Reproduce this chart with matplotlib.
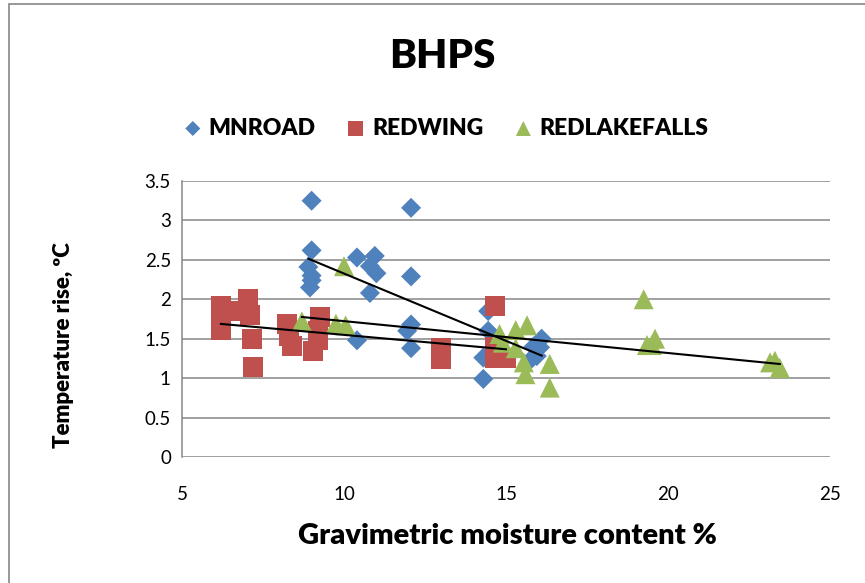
import numpy as np
import matplotlib
matplotlib.use("Agg")
import matplotlib.pyplot as plt
from matplotlib.patches import Rectangle

# values
mnroad_x = [9.0, 12.07, 9.0, 8.9, 9.0, 9.0, 8.95, 10.4, 10.95, 10.8, 11.0, 10.8,
            12.07, 12.07, 11.95, 12.07, 10.4, 14.45, 14.45, 14.3, 14.3, 16.1, 15.85, 15.95, 16.05, 15.8]
mnroad_y = [3.25, 3.16, 2.62, 2.41, 2.30, 2.24, 2.15, 2.53, 2.55, 2.42, 2.33, 2.08,
            2.29, 1.68, 1.60, 1.38, 1.48, 1.85, 1.60, 1.26, 0.99, 1.50, 1.40, 1.28, 1.39, 1.25]

redwing_x = [6.2, 6.2, 6.2, 6.55, 7.05, 7.1, 7.15, 7.2, 8.25, 8.3, 8.4, 9.25, 9.2,
             9.2, 9.05, 13.0, 13.0, 14.65, 14.65, 14.65, 15.0]
redwing_y = [1.92, 1.78, 1.61, 1.85, 2.00, 1.80, 1.50, 1.14, 1.69, 1.54, 1.41, 1.77, 1.60,
             1.48, 1.35, 1.38, 1.24, 1.92, 1.39, 1.25, 1.26]

redlake_x = [10.0, 8.7, 9.75, 10.05, 14.8, 14.9, 15.3, 15.65, 15.3, 15.55, 15.6, 16.35,
             16.35, 19.25, 19.35, 19.6, 19.5, 23.15, 23.3, 23.45]
redlake_y = [2.42, 1.72, 1.69, 1.67, 1.56, 1.45, 1.61, 1.67, 1.38, 1.20, 1.05, 1.18,
             0.88, 2.00, 1.42, 1.50, 1.42, 1.20, 1.22, 1.13]

series = [
    ("MNROAD", mnroad_x, mnroad_y, "#4F81BD", "D", 10.2),
    ("REDWING", redwing_x, redwing_y, "#C0504D", "s", 14.4),
    ("REDLAKEFALLS", redlake_x, redlake_y, "#9BBB59", "^", 14.4),
]

plt.rcParams['font.family'] = ['Lato', 'DejaVu Sans']
bold = 'heavy'

fig = plt.figure(figsize=(8.65, 5.83), dpi=100)
ax = fig.add_axes([182 / 865, 1 - 457 / 583, 648 / 865, 276 / 583])

for name, xs, ys, col, mk, ms in series:
    ax.scatter(xs, ys, s=ms ** 2, marker=mk, color=col, edgecolors='none',
               label=name, zorder=3)

# linear trendlines over each series' range
for name, xs, ys, col, mk, ms in series:
    xs = np.array(xs)
    k, b = np.polyfit(xs, ys, 1)
    xr = np.array([xs.min(), xs.max()])
    ax.plot(xr, k * xr + b, color='black', lw=1.5, zorder=4)

ax.set_xlim(5, 25)
ax.set_ylim(0, 3.5)
ax.set_xticks([5, 10, 15, 20, 25])
ax.set_yticks(np.arange(0, 3.51, 0.5))
ax.set_yticklabels(['0', '0.5', '1', '1.5', '2', '2.5', '3', '3.5'])
ax.yaxis.grid(True, color='#868686', lw=1.1)
ax.set_axisbelow(True)
for s in ['top', 'right', 'bottom']:
    ax.spines[s].set_visible(False)
ax.spines['left'].set_color('#868686')
ax.spines['left'].set_linewidth(1.1)
ax.tick_params(length=0, labelsize=13.5)
ax.tick_params(axis='y', pad=8)
ax.tick_params(axis='x', pad=21)

fig.text(507 / 865, 1 - 536 / 583, "Gravimetric moisture content %", fontsize=21,
         fontweight=bold, ha='center', va='center')
fig.text(64 / 865, 1 - 345 / 583, "Temperature rise, ºC", fontsize=16,
         fontweight=bold, ha='center', va='center', rotation=90)

fig.text(442 / 865, 1 - 57 / 583, "BHPS", fontsize=29, fontweight=bold,
         ha='center', va='center')

fig.legend(loc='center', bbox_to_anchor=(446 / 865, 1 - 128 / 583), ncol=3,
           frameon=False, prop={'size': 16.5, 'weight': bold},
           handlelength=0.8, handletextpad=0.3, columnspacing=1.35,
           scatterpoints=1, markerscale=0.75)

fig.patches.append(Rectangle((9 / 865, -0.1), 1.2, 1 - 4 / 583 + 0.1,
                             transform=fig.transFigure, fill=False,
                             edgecolor='#868686', lw=1.2))

fig.savefig("out.png", dpi=100)
